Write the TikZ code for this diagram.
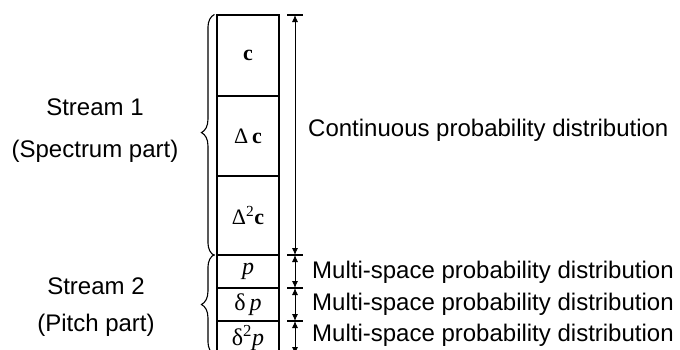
\documentclass[tikz,border=0pt]{standalone}
\usepackage{fontspec}
\setmainfont{Liberation Serif}
\newfontfamily\arialf{Liberation Sans}
\usetikzlibrary{arrows.meta,decorations.pathreplacing}
\begin{document}
\begin{tikzpicture}[x=1pt,y=-1pt,
  seg/.style={draw,line width=1.1pt,minimum width=62pt,inner sep=0pt,font=\fontsize{22}{24}\selectfont},
  pseg/.style={seg,font=\fontsize{24}{26}\selectfont},
  lbl/.style={font=\arialf\fontsize{24}{28}\selectfont,inner sep=0pt},
  dimarrow/.style={line width=0.9pt,{Latex[length=7pt,width=6pt]}-{Latex[length=7pt,width=6pt]}},
  tick/.style={line width=1.1pt},
  brc/.style={line width=1.1pt,decorate,decoration={brace,mirror,amplitude=13pt,aspect=#1}}]
\useasboundingbox (0,0) rectangle (680,349);
\clip (0,0) rectangle (680,349);
% box segments
\node[seg,minimum height=81pt] (c)  at (248,55.5)  {\textbf{c}};
\node[seg,minimum height=80pt] (dc) at (248,136)   {Δ\,\textbf{c}};
\node[seg,minimum height=79pt] (ddc) at (248,215.5) {Δ\textsuperscript{2}\textbf{c}};
\node[pseg,minimum height=33pt] (p)  at (248,271.5) {\textit{p}};
\node[pseg,minimum height=33pt] (dp) at (248,304.5) {δ\,\textit{p}};
\node[pseg,minimum height=33pt] (ddp) at (248,337.5) {δ\textsuperscript{2}\textit{p}};
% dimension ticks
\coordinate (t0) at (295,15);
\coordinate (t1) at (295,255);
\coordinate (t2) at (295,288);
\coordinate (t3) at (295,321);
\coordinate (t4) at (295,354);
\foreach \t in {t0,t1,t2,t3}{\draw[tick] ([xshift=-8pt]\t) -- ([xshift=8pt]\t);}
\draw[dimarrow] (t0) -- (t1);
\draw[dimarrow] (t1) -- (t2);
\draw[dimarrow] (t2) -- (t3);
\draw[dimarrow] (t3) -- (t4);
% labels on right
\node[lbl,anchor=west] (cont) at (308,130) {Continuous probability distribution};
\node[lbl,anchor=west] (m1) at (312,272) {Multi-space probability distribution};
\node[lbl,anchor=west] (m2) at (312,304) {Multi-space probability distribution};
\node[lbl,anchor=west] (m3) at (312,335) {Multi-space probability distribution};
% braces
\draw[brc=0.49] ([xshift=-2pt]c.north west) -- ([xshift=-2pt]ddc.south west);
\draw[brc=0.5] ([xshift=-2pt]p.north west) -- ([xshift=-2pt]ddp.south west);
% stream labels
\node[lbl] (s1) at (95,107) {Stream 1};
\node[lbl] (s1b) at (95,151) {(Spectrum part)};
\node[lbl] (s2) at (96,286) {Stream 2};
\node[lbl] (s2b) at (96,325) {(Pitch part)};
\end{tikzpicture}
\end{document}
